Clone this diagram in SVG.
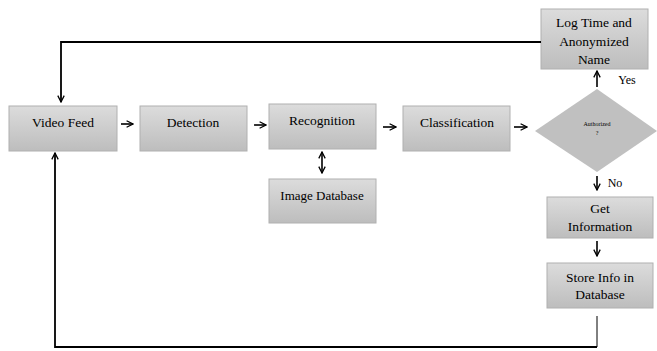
<svg xmlns="http://www.w3.org/2000/svg" width="657" height="351" viewBox="0 0 657 351">
<defs>
<linearGradient id="g" x1="0" y1="0" x2="0" y2="1">
<stop offset="0" stop-color="#dcdcdc"/>
<stop offset="1" stop-color="#bdbdbd"/>
</linearGradient>
<marker id="ah" viewBox="0 0 10 10" refX="9" refY="5" markerWidth="8" markerHeight="8" markerUnits="userSpaceOnUse" orient="auto-start-reverse">
<path d="M1,1 L9,5 L1,9" fill="none" stroke="#000" stroke-width="1.6"/>
</marker>
</defs>
<style>
.box{fill:url(#g);stroke:#b0b0b0;stroke-width:1}
.t{font-family:'Liberation Serif','Times New Roman','DejaVu Serif',serif;font-size:13.5px;fill:#000;text-anchor:middle}
.c{fill:none;stroke:#000;stroke-width:1.6}
.ct{fill:none;stroke:#000;stroke-width:1.8}
</style>
<g id="video-feed"><rect class="box" x="9" y="106" width="108" height="45"/><text class="t" x="63" y="127">Video Feed</text></g>
<g id="detection"><rect class="box" x="140" y="106" width="107" height="45"/><text class="t" x="193" y="127">Detection</text></g>
<g id="recognition"><rect class="box" x="269" y="104" width="107" height="45"/><text class="t" x="322" y="125">Recognition</text></g>
<g id="classification"><rect class="box" x="403" y="106" width="107" height="45"/><text class="t" x="457" y="127">Classification</text></g>
<g id="image-database"><rect class="box" x="269" y="179" width="107" height="44"/><text class="t" x="322" y="200" style="font-size:13px">Image Database</text></g>
<g id="log-time"><rect class="box" x="541" y="9" width="107" height="60"/><text class="t" x="594" y="27">Log Time and</text><text class="t" x="594" y="46">Anonymized</text><text class="t" x="594" y="64">Name</text></g>
<g id="authorized"><polygon points="597,89 657,131 597,172 535,131" fill="#c0c0c0"/><text class="t" x="597" y="126" style="font-size:6px">Authorized</text><text class="t" x="597" y="135" style="font-size:6px">?</text></g>
<g id="get-information"><rect class="box" x="547" y="197" width="106" height="41"/><text class="t" x="600" y="213">Get</text><text class="t" x="600" y="231">Information</text></g>
<g id="store-info"><rect class="box" x="547" y="263" width="106" height="45"/><text class="t" x="600" y="282">Store Info in</text><text class="t" x="600" y="299">Database</text></g>
<g id="labels"><text class="t" x="627" y="84" style="font-size:12px">Yes</text><text class="t" x="615" y="187" style="font-size:12px">No</text></g>
<g id="connectors">
<line class="c" x1="121" y1="124" x2="133" y2="124" marker-end="url(#ah)"/>
<line class="c" x1="254" y1="125" x2="266" y2="125" marker-end="url(#ah)"/>
<line class="c" x1="383" y1="127" x2="396" y2="127" marker-end="url(#ah)"/>
<line class="c" x1="514" y1="127" x2="527" y2="127" marker-end="url(#ah)"/>
<line class="c" x1="322" y1="152" x2="322" y2="173" marker-start="url(#ah)" marker-end="url(#ah)"/>
<line class="c" x1="597" y1="87" x2="597" y2="71" marker-end="url(#ah)"/>
<line class="c" x1="597" y1="176" x2="597" y2="190" marker-end="url(#ah)"/>
<line class="c" x1="597" y1="241" x2="597" y2="256" marker-end="url(#ah)"/>
<polyline class="ct" points="541,42 61,42 61,102" marker-end="url(#ah)"/>
<polyline points="597,316 597,347" fill="none" stroke="#000" stroke-width="1"/>
<polyline class="ct" points="597,347 55,347 55,153" marker-end="url(#ah)"/>
</g>
</svg>
